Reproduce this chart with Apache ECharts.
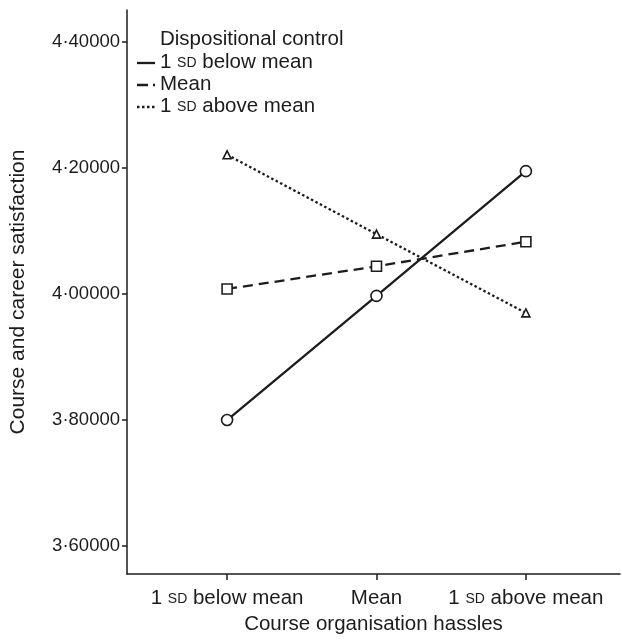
<!DOCTYPE html>
<html><head><meta charset="utf-8">
<script src="https://cdn.jsdelivr.net/npm/echarts@6/dist/echarts.min.js"></script>
<style>html,body{margin:0;padding:0;background:#fff}#c{width:622px;height:640px}</style>
</head><body><div id="c"></div>
<script>
const categories = ['1 SD below mean', 'Mean', '1 SD above mean'];
const seriesNames = ['1 SD below mean', 'Mean', '1 SD above mean'];
const lowControl = [3.800, 3.997, 4.195];
const meanControl = [4.008, 4.044, 4.083];
const highControl = [4.221, 4.095, 3.970];
const yTicks = [3.6, 3.8, 4.0, 4.2, 4.4];
const legendTitle = 'Dispositional control';
const xTitle = 'Course organisation hassles';
const yTitle = 'Course and career satisfaction';

const FONT = '"Liberation Sans", Arial, sans-serif';
const INK = '#1c1c1c';
const FS = 20.5;
const SCFS = 14;

const rich = {
  a: { fontSize: FS, fontFamily: FONT, color: INK, verticalAlign: 'bottom' },
  sc: { fontSize: SCFS, fontFamily: FONT, color: INK, verticalAlign: 'bottom', padding: [0, 0, 3, 0] }
};
function sc(s) { return '{a|' + s.replace('SD', '}{sc|SD}{a|') + '}'; }

function pts(arr) { return arr.map((v, i) => [i, v]); }

const chart = echarts.init(document.getElementById('c'), null, { renderer: 'canvas' });

const styles = [
  { data: lowControl, type: 'solid', symbol: 'circle', size: 11 },
  { data: meanControl, type: [10, 6], symbol: 'rect', size: 10 },
  { data: highControl, type: [2.5, 2.5], symbol: 'triangle', size: 8 }
];

const series = styles.map((s, k) => ({
  name: seriesNames[k],
  type: 'line',
  data: pts(s.data),
  symbol: s.symbol,
  symbolSize: s.size,
  showAllSymbol: true,
  lineStyle: { color: INK, width: 2.3, type: s.type },
  itemStyle: { color: '#fff', borderColor: INK, borderWidth: 1.6 },
  z: 3 - k
}));

// legend drawn with graphic
const legendY = [63, 85, 107];
const graphic = [
  { type: 'text', left: 160, top: 29, style: { text: legendTitle, font: FS + 'px ' + FONT, fill: INK } }
];
const legendDash = [null, [11, 5, 3, 100], [2.5, 2.5]];
seriesNames.forEach((n, k) => {
  graphic.push({ type: 'line', shape: { x1: 137, y1: legendY[k], x2: 155, y2: legendY[k] },
    style: { stroke: INK, lineWidth: 2.3, lineDash: legendDash[k] } });
  graphic.push({ type: 'text', left: 160, top: legendY[k] - 11,
    style: { rich: {
        a: { font: FS + 'px ' + FONT, fill: INK, verticalAlign: 'bottom' },
        sc: { font: SCFS + 'px ' + FONT, fill: INK, verticalAlign: 'bottom', padding: [0, 0, 3, 0] } },
      text: sc(n) } });
});

chart.setOption({
  animation: false,
  backgroundColor: '#fff',
  grid: { left: 127, top: 10, right: 2, bottom: 66, containLabel: false, outerBoundsMode: 'none' },
  xAxis: {
    type: 'value', min: -0.67, max: 2.63,
    name: xTitle, nameLocation: 'middle', nameGap: 40,
    nameTextStyle: { fontSize: FS, fontFamily: FONT, color: INK },
    axisLine: { show: true, onZero: false, lineStyle: { color: INK, width: 1.5 } },
    axisTick: { show: true, length: 6, lineStyle: { color: INK, width: 1.5 }, customValues: [0, 1, 2] },
    axisLabel: { customValues: [0, 1, 2], margin: 14, fontSize: FS, fontFamily: FONT, color: INK,
      formatter: v => sc(categories[Math.round(v)]), rich: rich },
    splitLine: { show: false }
  },
  yAxis: {
    type: 'value', min: 3.5556, max: 4.4508,
    name: yTitle, nameLocation: 'middle', nameGap: 98,
    nameTextStyle: { fontSize: 21, fontFamily: FONT, color: INK },
    axisLine: { show: true, onZero: false, lineStyle: { color: INK, width: 1.5 } },
    axisTick: { show: true, length: 5, lineStyle: { color: INK, width: 1.5 }, customValues: yTicks },
    axisLabel: { customValues: yTicks, margin: 7, fontSize: 18.5, fontFamily: FONT, color: INK,
      formatter: v => v.toFixed(5).replace('.', '·') },
    splitLine: { show: false }
  },
  series: series,
  graphic: graphic
});
</script></body></html>
